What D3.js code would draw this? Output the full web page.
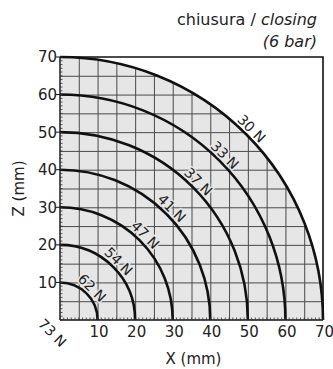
<!DOCTYPE html>
<html><head><meta charset="utf-8">
<script src="https://cdn.jsdelivr.net/npm/d3@7"></script>
<style>
body{margin:0;background:#fff}
svg{display:block}
text{font-family:"DejaVu Sans",sans-serif;fill:#222}
</style></head>
<body>
<svg id="c" width="333" height="369"></svg>
<script>
const radii = [10,20,30,40,50,60,70];
const forceLabels = ["62 N","54 N","47 N","41 N","37 N","33 N","30 N"];
const originLabel = "73 N";
const xTicks = [10,20,30,40,50,60,70];
const yTicks = [10,20,30,40,50,60,70];
const gridStep = 5;
const minorStep = 1;
const domainMax = 70;

const svg = d3.select("#c");
const x = d3.scaleLinear().domain([0,domainMax]).range([60,323]);
const y = d3.scaleLinear().domain([0,domainMax]).range([320,57]);
const rpx = r => x(r) - x(0);

const defs = svg.append("defs");
defs.append("clipPath").attr("id","disk").append("path")
  .attr("d", `M${x(0)},${y(0)} L${x(0)},${y(domainMax)} A${rpx(domainMax)},${rpx(domainMax)} 0 0 1 ${x(domainMax)},${y(0)} Z`);

// gray quarter disk
svg.append("path")
  .attr("d", `M${x(0)},${y(0)} L${x(0)},${y(domainMax)} A${rpx(domainMax)},${rpx(domainMax)} 0 0 1 ${x(domainMax)},${y(0)} Z`)
  .attr("fill","#e6e6e6");

// grid
const gridVals = d3.range(gridStep, domainMax, gridStep);
const g = svg.append("g").attr("clip-path","url(#disk)").attr("stroke","#4a4a4a").attr("stroke-width",1);
g.selectAll("line.v").data(gridVals).join("line")
  .attr("x1",d=>x(d)+0.5).attr("x2",d=>x(d)+0.5).attr("y1",y(0)).attr("y2",y(domainMax));
g.selectAll("line.h").data(gridVals).join("line")
  .attr("y1",d=>y(d)+0.5).attr("y2",d=>y(d)+0.5).attr("x1",x(0)).attr("x2",x(domainMax));

// frame top & right
svg.append("path")
  .attr("d", `M${x(0)},${y(domainMax)} L${x(domainMax)},${y(domainMax)} L${x(domainMax)},${y(0)}`)
  .attr("fill","none").attr("stroke","#111").attr("stroke-width",1.6);

// arcs
svg.append("g").selectAll("path").data(radii).join("path")
  .attr("d", r => `M${x(0)},${y(r)} A${rpx(r)},${rpx(r)} 0 0 1 ${x(r)},${y(0)}`)
  .attr("fill","none").attr("stroke","#111").attr("stroke-width",2.6);

// axes
const minor = d3.range(0, domainMax+0.01, minorStep);
const ax = svg.append("g");
ax.append("line").attr("x1",x(0)).attr("x2",x(0)).attr("y1",y(0)).attr("y2",y(domainMax)).attr("stroke","#111").attr("stroke-width",1.4);
ax.append("line").attr("x1",x(0)).attr("x2",x(domainMax)).attr("y1",y(0)).attr("y2",y(0)).attr("stroke","#111").attr("stroke-width",1.4);
ax.selectAll("line.my").data(minor).join("line")
  .attr("x1",x(0)).attr("x2",x(0)+2.5).attr("y1",d=>y(d)).attr("y2",d=>y(d)).attr("stroke","#333").attr("stroke-width",0.8);
ax.selectAll("line.mx").data(minor).join("line")
  .attr("y1",y(0)).attr("y2",y(0)-2.5).attr("x1",d=>x(d)).attr("x2",d=>x(d)).attr("stroke","#333").attr("stroke-width",0.8);
ax.selectAll("line.ty").data(yTicks).join("line")
  .attr("x1",x(0)-4).attr("x2",x(0)).attr("y1",d=>y(d)).attr("y2",d=>y(d)).attr("stroke","#111").attr("stroke-width",1);

ax.selectAll("text.yl").data(yTicks).join("text")
  .attr("x",x(0)-3).attr("y",d=>y(d)).attr("dy","0.36em")
  .attr("text-anchor","end").attr("font-size",15).text(d=>d);
ax.selectAll("text.xl").data(xTicks).join("text")
  .attr("x",d=>x(d)+1.5).attr("y",y(0)+17)
  .attr("text-anchor","middle").attr("font-size",15).text(d=>d);

// force labels along arcs
const labAng = 45 * Math.PI/180;
svg.append("g").selectAll("text").data(radii).join("text")
  .attr("transform", (r,i) => {
    const rr = r + 2.1;
    return `translate(${x(rr*Math.cos(labAng))},${y(rr*Math.sin(labAng))}) rotate(45)`;
  })
  .attr("text-anchor","middle").attr("dominant-baseline","central")
  .attr("font-size",14)
  .attr("stroke",(r,i)=> i===radii.length-1 ? "#fff" : "#e6e6e6")
  .attr("stroke-width",3).attr("paint-order","stroke")
  .text((r,i)=>forceLabels[i]);

svg.append("text")
  .attr("transform", `translate(${x(-2)},${y(-3.4)}) rotate(45)`)
  .attr("text-anchor","middle").attr("dominant-baseline","central")
  .attr("font-size",14).text(originLabel);

// axis titles
svg.append("text").attr("x",(x(0)+x(domainMax))/2+2).attr("y",364)
  .attr("text-anchor","middle").attr("font-size",15).text("X  (mm)");
svg.append("text").attr("transform",`translate(24,${(y(0)+y(domainMax))/2}) rotate(-90)`)
  .attr("text-anchor","middle").attr("font-size",15).text("Z  (mm)");

// title
const t = svg.append("text").attr("x",317).attr("y",25).attr("text-anchor","end").attr("font-size",16);
t.append("tspan").text("chiusura / ");
t.append("tspan").attr("font-style","italic").text("closing");
svg.append("text").attr("x",317).attr("y",47).attr("text-anchor","end").attr("font-size",16)
  .attr("font-style","italic").text("(6 bar)");
</script>
</body></html>
